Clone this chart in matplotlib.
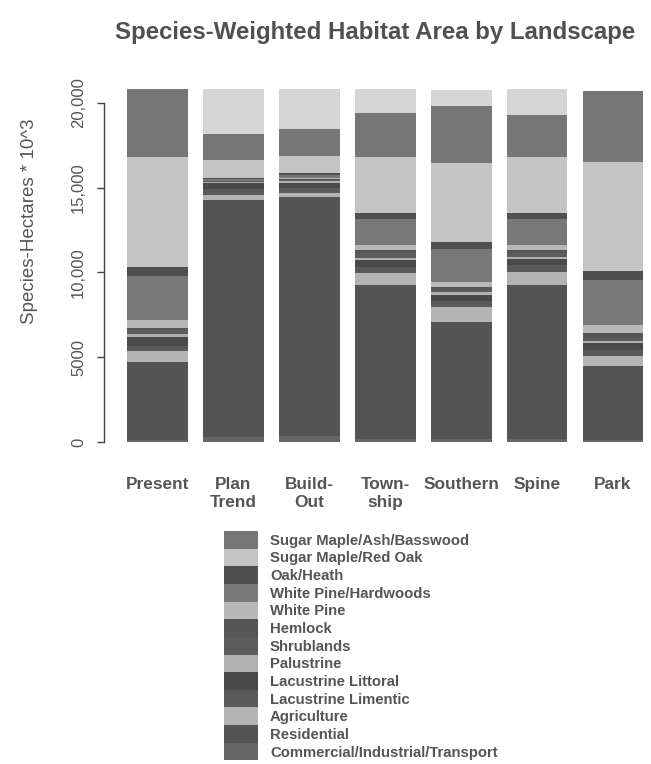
import matplotlib
matplotlib.use("Agg")
import matplotlib.pyplot as plt
import numpy as np

plt.rcParams['font.family'] = ['Liberation Sans', 'DejaVu Sans']

landscapes = ["Present", "Plan\nTrend", "Build-\nOut", "Town-\nship", "Southern", "Spine", "Park"]

# stacked from bottom to top (values in species-hectares * 10^3, thousands)
categories = [
    "Commercial/Industrial/Transport", "Residential", "Agriculture",
    "Lacustrine Limentic", "Lacustrine Littoral", "Palustrine", "Shrublands",
    "Hemlock", "White Pine", "White Pine/Hardwoods", "Oak/Heath",
    "Sugar Maple/Red Oak", "Sugar Maple/Ash/Basswood",
]
commercial = [0.1, 0.3, 0.35, 0.2, 0.2, 0.2, 0.1]
residential = [4.6, 13.95, 14.1, 9.05, 6.9, 9.05, 4.4]
agriculture = [0.65, 0.3, 0.25, 0.7, 0.85, 0.77, 0.6]
lac_limentic = [0.3, 0.35, 0.3, 0.4, 0.35, 0.4, 0.35]
lac_littoral = [0.53, 0.35, 0.3, 0.4, 0.4, 0.4, 0.4]
palustrine = [0.2, 0.1, 0.1, 0.12, 0.12, 0.12, 0.1]
shrublands = [0.2, 0.02, 0.05, 0.25, 0.15, 0.22, 0.25]
hemlock = [0.15, 0.02, 0.05, 0.2, 0.15, 0.19, 0.2]
white_pine = [0.47, 0.03, 0.1, 0.3, 0.3, 0.3, 0.5]
wp_hardwoods = [2.6, 0.1, 0.15, 1.55, 1.95, 1.53, 2.65]
oak_heath = [0.53, 0.08, 0.1, 0.35, 0.4, 0.35, 0.53]
sm_red_oak = [6.5, 1.05, 1.05, 3.3, 4.7, 3.3, 6.45]
sm_ash_basswood = [4.0, 1.53, 1.55, 2.6, 3.35, 2.48, 4.2]
# light top segment (not in legend): shortfall relative to Present
shortfall = [0.0, 2.65, 2.4, 1.4, 0.95, 1.53, 0.0]

series = [commercial, residential, agriculture, lac_limentic, lac_littoral,
          palustrine, shrublands, hemlock, white_pine, wp_hardwoods,
          oak_heath, sm_red_oak, sm_ash_basswood]
colors = ["#666666", "#545454", "#b4b4b4", "#5a5a5a", "#4a4a4a",
          "#b0b0b0", "#5c5c5c", "#565656", "#b8b8b8", "#787878",
          "#505050", "#c4c4c4", "#767676"]
shortfall_color = "#d6d6d6"

fig = plt.figure(figsize=(6.51, 7.64), dpi=100)
ax = fig.add_axes([0.16, 0.4215, 0.84, 0.4659])

x = np.arange(len(landscapes))
bottom = np.zeros(len(landscapes))
handles = []
for vals, col, name in zip(series, colors, categories):
    v = np.array(vals) * 1000
    h = ax.bar(x, v, width=0.8, bottom=bottom, color=col, linewidth=0, label=name)
    handles.append(h)
    bottom += v
ax.bar(x, np.array(shortfall) * 1000, width=0.8, bottom=bottom,
       color=shortfall_color, linewidth=0, label="_nolegend_")

ax.set_xlim(-0.7, 6.5)
ax.set_ylim(0, 21000)
for s in ["top", "right", "bottom"]:
    ax.spines[s].set_visible(False)
ax.spines["left"].set_bounds(0, 20000)
ax.spines["left"].set_color("#444444")
ax.spines["left"].set_linewidth(1.0)

ax.set_yticks([0, 5000, 10000, 15000, 20000])
ax.set_yticklabels(["0", "5000", "10,000", "15,000", "20,000"], rotation=90,
                   va="center", color="#555555", fontsize=12)
ax.tick_params(axis="y", length=5, width=1.0, color="#444444", pad=8)

ax.set_xticks(x)
ax.set_xticklabels(landscapes, fontsize=12.4, fontweight="bold", color="#555555",
                   linespacing=1.3)
ax.tick_params(axis="x", length=0, pad=25)

fig.text(0.576, 0.958, "Species-Weighted Habitat Area by Landscape",
         ha="center", va="center", fontsize=17.3, fontweight="bold", color="#505050")
fig.text(0.046, 0.71, "Species-Hectares * 10^3", rotation=90, ha="center",
         va="center", fontsize=13.5, color="#555555")

leg = fig.legend(handles[::-1], categories[::-1], loc="upper left",
                 bbox_to_anchor=(224 / 651, 1 - 531 / 764),
                 frameon=False, borderpad=0, borderaxespad=0, labelspacing=0,
                 handlelength=2.3, handleheight=1.45, handletextpad=0.8,
                 prop={"size": 10.7, "weight": "bold"})
for t in leg.get_texts():
    t.set_color("#555555")

fig.savefig("out.png", dpi=100)
